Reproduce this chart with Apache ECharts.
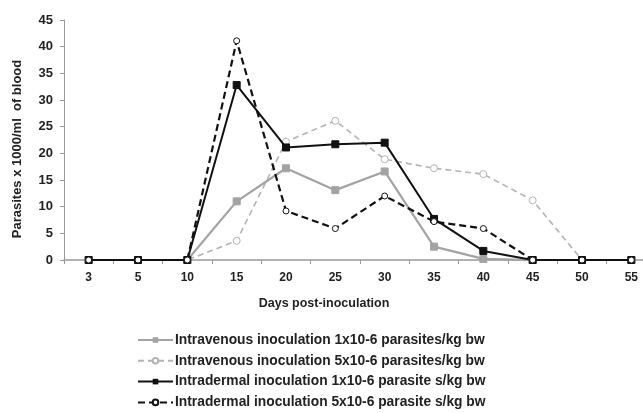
<!DOCTYPE html>
<html><head><meta charset="utf-8">
<script src="https://cdn.jsdelivr.net/npm/echarts@6/dist/echarts.min.js"></script>
<style>html,body{margin:0;padding:0;background:#fff}#c{width:643px;height:413px}</style>
</head><body><div id="c"></div>
<script>
const days = ['3','5','10','15','20','25','30','35','40','45','50','55'];
const yTicks = [0,5,10,15,20,25,30,35,40,45];
const ivLow  = [0,0,0,11,17.2,13.1,16.6,2.5,0.2,0,0,0];
const ivHigh = [0,0,0,3.6,22.2,26.1,18.9,17.2,16.1,11.2,0,0];
const idLow  = [0,0,0,32.8,21.1,21.7,22.0,7.7,1.7,0,0,0];
const idHigh = [0,0,0,41.1,9.2,5.9,12.0,7.2,5.9,0,0,0];
const names = [
  'Intravenous inoculation 1x10-6 parasites/kg bw',
  'Intravenous inoculation 5x10-6 parasites/kg bw',
  'Intradermal inoculation 1x10-6 parasite s/kg bw',
  'Intradermal inoculation 5x10-6 parasite s/kg bw'
];
const font = 'Liberation Sans, Arial, sans-serif';
const chart = echarts.init(document.getElementById('c'));
chart.setOption({
  animation: false,
  textStyle: {fontFamily: font},
  grid: {left: 64, width: 592, top: 20, bottom: 153, outerBoundsMode: 'none', containLabel: false},
  legend: {
    orient: 'vertical', left: 137, top: 333, bottom: 0, padding: 0, itemWidth: 35, itemHeight: 7, itemGap: 6.8,
    textStyle: {fontFamily: font, fontSize: 13.8, fontWeight: 'bold', color: '#222', padding: [0,0,0,-3]},
    data: names
  },
  xAxis: {
    type: 'category', data: days, boundaryGap: true,
    name: 'Days post-inoculation', nameLocation: 'middle', nameGap: 37,
    nameTextStyle: {fontFamily: font, fontSize: 12.5, fontWeight: 'bold', color: '#222', padding: [0,72,0,0]},
    axisLine: {lineStyle: {color: '#999', width: 1.5}},
    axisTick: {show: true, length: 4, lineStyle: {color: '#999'}},
    axisLabel: {fontFamily: font, fontSize: 12, fontWeight: 'bold', color: '#222', margin: 12},
    splitLine: {show: false}
  },
  yAxis: {
    type: 'value', min: 0, max: 45, interval: 5,
    name: 'Parasites x 1000/ml  of blood', nameLocation: 'middle', nameGap: 40, nameRotate: 90,
    nameTextStyle: {fontFamily: font, fontSize: 13, fontWeight: 'bold', color: '#222', padding: [0,18,0,0]},
    axisLine: {show: true, lineStyle: {color: '#999', width: 1}},
    axisTick: {show: true, length: 4, lineStyle: {color: '#999'}},
    axisLabel: {fontFamily: font, fontSize: 13, fontWeight: 'bold', color: '#222', margin: 11},
    splitLine: {show: false}
  },
  series: [
    {name: names[0], type: 'line', data: ivLow, symbol: 'rect', symbolSize: 7,
     lineStyle: {color: '#a3a3a3', width: 2.2}, itemStyle: {color: '#a3a3a3', borderColor: '#a3a3a3'}, z: 2},
    {name: names[1], type: 'line', data: ivHigh, symbol: 'circle', symbolSize: 7,
     lineStyle: {color: '#b3b3b3', width: 1.6, type: [6,4]}, itemStyle: {color: '#fff', borderColor: '#b3b3b3', borderWidth: 1}, z: 1},
    {name: names[2], type: 'line', data: idLow, symbol: 'rect', symbolSize: 7,
     lineStyle: {color: '#111', width: 2}, itemStyle: {color: '#111', borderColor: '#111'}, z: 3},
    {name: names[3], type: 'line', data: idHigh, symbol: 'circle', symbolSize: 6,
     lineStyle: {color: '#111', width: 2.2, type: [7,4]}, itemStyle: {color: '#fff', borderColor: '#111', borderWidth: 1}, z: 4}
  ]
});
</script></body></html>
